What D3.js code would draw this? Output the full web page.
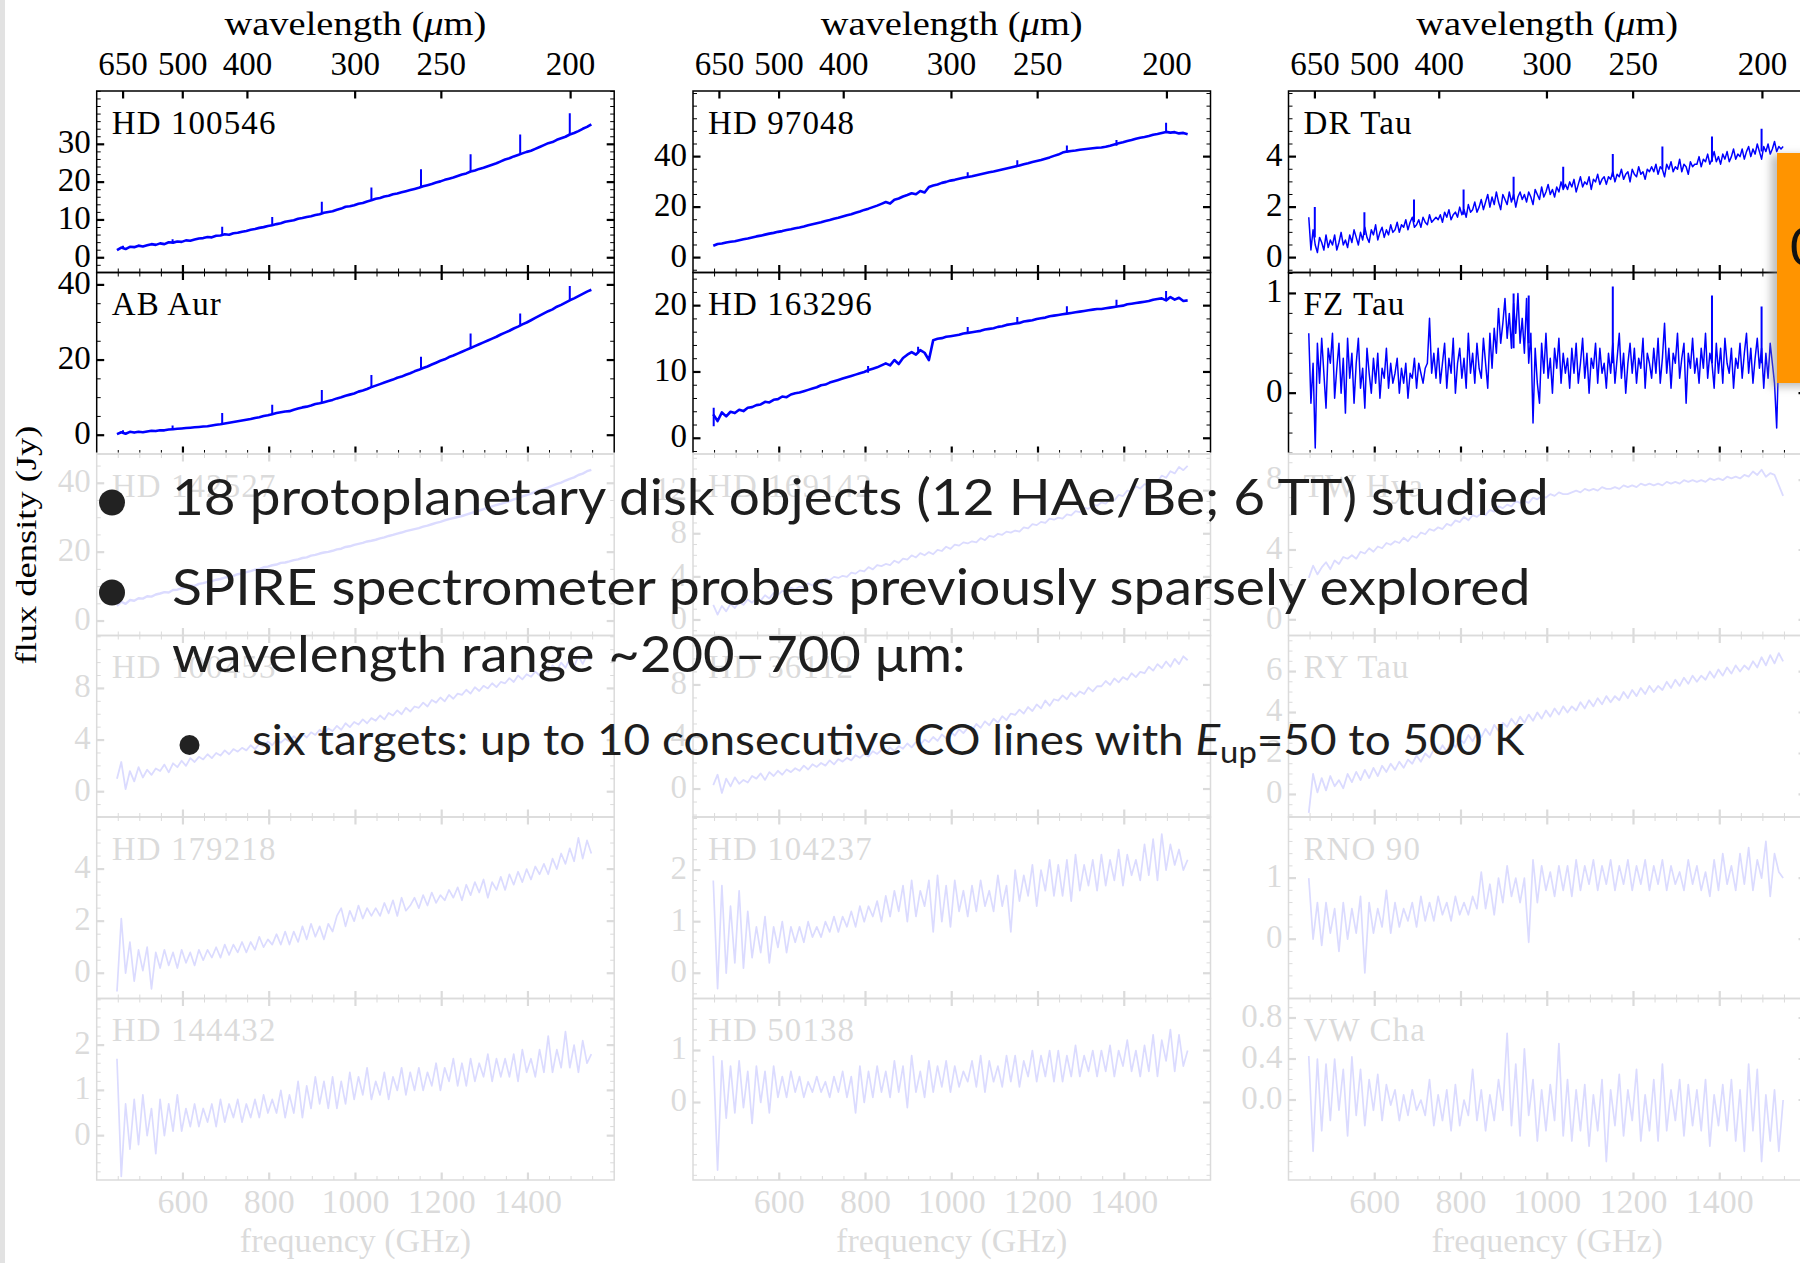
<!DOCTYPE html>
<html><head><meta charset="utf-8">
<script src="https://cdn.jsdelivr.net/npm/d3@7"></script>
<style>body{margin:0;background:#fff}svg{display:block}</style>
</head><body>
<svg id="chart" width="1800" height="1263"></svg>
<script>
// ---------- data ----------
const FREQ_DOMAIN = [400, 1600];
const FREQ = [447,457,467,477,487,497,507,517,527,537,
547,557,567,577,587,597,607,617,627,637,
647,657,667,677,687,697,707,717,727,737,
747,757,767,777,787,797,807,817,827,837,
847,857,867,877,887,897,907,917,927,937,
947,957,967,977,987,997,1007,1017,1027,1037,
1047,1057,1067,1077,1087,1097,1107,1117,1127,1137,
1147,1157,1167,1177,1187,1197,1207,1217,1227,1237,
1247,1257,1267,1277,1287,1297,1307,1317,1327,1337,
1347,1357,1367,1377,1387,1397,1407,1417,1427,1437,
1447,1457,1467,1477,1487,1497,1507,1517,1527,1537,
1547];
const FREQ5 = [447,452,457,462,467,472,477,482,487,492,497,502,507,512,517,522,527,532,537,542,
547,552,557,562,567,572,577,582,587,592,597,602,607,612,617,622,627,632,637,642,
647,652,657,662,667,672,677,682,687,692,697,702,707,712,717,722,727,732,737,742,
747,752,757,762,767,772,777,782,787,792,797,802,807,812,817,822,827,832,837,842,
847,852,857,862,867,872,877,882,887,892,897,902,907,912,917,922,927,932,937,942,
947,952,957,962,967,972,977,982,987,992,997,1002,1007,1012,1017,1022,1027,1032,1037,1042,
1047,1052,1057,1062,1067,1072,1077,1082,1087,1092,1097,1102,1107,1112,1117,1122,1127,1132,1137,1142,
1147,1152,1157,1162,1167,1172,1177,1182,1187,1192,1197,1202,1207,1212,1217,1222,1227,1232,1237,1242,
1247,1252,1257,1262,1267,1272,1277,1282,1287,1292,1297,1302,1307,1312,1317,1322,1327,1332,1337,1342,
1347,1352,1357,1362,1367,1372,1377,1382,1387,1392,1397,1402,1407,1412,1417,1422,1427,1432,1437,1442,
1447,1452,1457,1462,1467,1472,1477,1482,1487,1492,1497,1502,1507,1512,1517,1522,1527,1532,1537,1542,
1547];
const FREQ_TICKS = [600, 800, 1000, 1200, 1400];
const WAVE_TICKS = [650, 500, 400, 300, 250, 200];

const HD100546 = [2.0,2.7,2.3,2.9,2.8,3.2,3.0,3.3,3.6,3.4,
3.8,3.6,4.1,4.0,4.3,4.2,4.6,4.5,4.8,5.1,
5.2,5.5,5.4,5.8,5.9,6.2,6.1,6.5,6.6,6.9,
7.1,7.4,7.6,7.9,8.1,8.4,8.6,8.9,9.1,9.5,
9.7,9.9,10.3,10.5,10.8,11.0,11.3,11.5,11.9,12.1,
12.3,12.7,13.0,13.5,13.6,13.9,14.3,14.5,14.9,15.2,
15.6,15.8,16.2,16.4,16.8,17.0,17.3,17.6,17.9,18.2,
18.5,18.9,19.2,19.5,19.9,20.2,20.6,20.9,21.2,21.6,
22.0,22.3,22.8,23.1,23.5,23.8,24.2,24.6,25.0,25.5,
26.0,26.3,26.8,27.2,27.6,28.0,28.3,28.8,29.3,29.8,
30.3,30.6,31.2,31.6,32.0,32.6,33.0,33.5,34.1,34.6,
35.3];
const HD100546_LINES = [[461,2.5,3.2],[576,4.0,4.9],[691,6.1,8.2],[807,8.6,10.8],[922,11.8,14.8],[1037,15.2,18.6],[1152,18.6,23.4],[1267,22.8,27.4],[1382,27.4,32.6],[1497,32.5,38.2]];

const HD97048 = [4.7,5.4,5.6,6.0,6.3,6.5,6.9,7.3,7.6,8.0,
8.4,8.7,9.1,9.5,9.8,10.2,10.5,10.9,11.2,11.6,
11.9,12.3,12.8,13.2,13.6,14.0,14.5,14.9,15.4,15.8,
16.3,16.8,17.2,17.8,18.3,18.9,19.4,20.0,20.6,21.3,
22.0,21.4,22.9,23.4,24.2,24.8,25.5,25.1,26.4,25.8,
28.0,28.6,29.0,29.6,30.0,30.5,30.8,31.2,31.6,31.9,
32.2,32.6,33.0,33.4,33.8,34.1,34.5,34.9,35.3,35.7,
36.1,36.5,37.0,37.4,37.9,38.3,38.7,39.2,39.7,40.3,
40.8,41.6,42.0,42.2,42.4,42.7,42.9,43.1,43.3,43.5,
43.6,43.9,44.3,44.8,45.3,45.7,46.2,46.6,47.1,47.5,
47.8,48.2,48.7,49.0,49.4,49.8,49.5,49.7,49.2,49.4,
48.9];
const HD97048_LINES = [[1037,31.8,33.8],[1152,36.3,38.6],[1267,41.9,44.4],[1382,44.3,46.6],[1497,49.7,53.4]];

const DRTAU = [1.6,0.3,1.1,0.5,0.2,0.8,0.6,0.3,0.9,0.4,0.7,0.5,0.9,0.3,0.6,1.0,0.5,0.7,0.4,0.9,
0.6,1.1,0.8,0.5,1.0,0.7,1.2,0.8,0.6,1.1,0.9,1.3,0.7,1.0,1.2,0.8,1.1,0.9,1.3,1.0,
1.1,1.4,1.0,1.3,1.2,1.5,1.1,1.4,1.6,1.2,1.3,1.5,1.2,1.6,1.4,1.3,1.7,1.4,1.5,1.6,
1.5,1.7,1.4,1.8,1.6,1.9,1.5,1.7,1.8,1.6,2.0,1.7,1.9,1.6,2.1,1.8,1.9,2.2,1.8,2.0,
2.3,1.9,2.2,2.5,2.0,2.4,2.1,2.6,2.2,1.9,2.5,2.3,2.1,2.6,2.2,2.5,2.0,2.4,2.6,2.3,
2.5,2.2,2.6,2.4,2.1,2.7,2.5,2.3,2.8,2.4,2.6,2.9,2.5,2.7,2.4,2.8,2.6,3.0,2.7,2.9,
2.7,3.0,2.8,3.1,2.6,2.9,3.2,2.8,3.0,2.9,3.2,2.7,3.1,3.0,3.3,2.9,3.1,3.2,2.9,3.2,
3.1,3.4,3.0,3.3,3.2,3.5,3.1,3.3,3.4,3.0,3.5,3.3,3.2,3.6,3.3,3.4,3.1,3.5,3.4,3.6,
3.4,3.7,3.3,3.6,3.5,3.2,3.7,3.5,3.8,3.4,3.6,3.5,3.9,3.4,3.7,3.6,3.3,3.8,3.6,3.7,
3.7,4.0,3.6,3.9,3.8,4.1,3.7,3.9,4.2,3.8,4.0,3.7,4.1,3.9,4.2,3.8,4.0,4.3,3.9,4.1,
4.0,4.3,3.9,4.2,4.4,4.0,4.3,4.1,4.5,4.2,3.9,4.4,4.2,4.5,4.1,4.3,4.6,4.2,4.4,4.3,
4.4];
const DRTAU_LINES = [[461,0.8,2.0],[576,0.9,1.8],[691,1.4,2.3],[806,1.7,2.7],[922,2.3,3.2],[1037,2.8,3.6],[1152,3.2,4.1],[1267,3.5,4.4],[1382,3.8,4.8],[1497,4.2,5.1]];

const ABAUR = [0.3,0.8,0.4,0.9,0.7,0.9,0.8,1.0,1.2,1.1,
1.3,1.3,1.5,1.6,1.7,1.8,1.9,2.0,2.1,2.2,
2.3,2.4,2.6,2.8,2.9,3.1,3.3,3.5,3.7,3.9,
4.1,4.3,4.6,4.8,5.1,5.3,5.6,5.9,6.1,6.3,
6.4,6.8,7.1,7.4,7.6,7.9,8.3,8.5,8.8,9.1,
9.4,9.8,10.1,10.5,10.8,11.1,11.6,11.9,12.3,12.8,
13.2,13.6,14.0,14.4,14.8,15.3,15.6,16.1,16.5,17.0,
17.4,17.9,18.3,18.8,19.3,19.8,20.2,20.8,21.2,21.7,
22.2,22.7,23.2,23.7,24.2,24.7,25.2,25.7,26.2,26.8,
27.3,27.8,28.4,28.9,29.5,30.0,30.6,31.2,31.8,32.4,
33.0,33.5,34.2,34.7,35.3,35.9,36.4,37.0,37.6,38.2,
38.7];
const ABAUR_LINES = [[461,0.8,1.3],[576,1.6,2.6],[691,3.0,5.9],[807,5.6,8.1],[922,8.6,12.0],[1037,12.8,16.0],[1152,17.5,20.9],[1267,23.2,27.1],[1382,29.2,32.4],[1497,36.0,39.7]];

const HD163296 = [3.6,2.6,3.9,3.3,4.0,3.8,4.3,4.1,4.6,4.7,
5.0,5.1,5.5,5.4,5.8,5.9,6.3,6.2,6.6,6.8,
6.9,7.1,7.3,7.5,7.7,8.0,8.1,8.4,8.6,8.8,
9.0,9.2,9.4,9.6,9.8,10.0,10.3,10.5,10.7,11.0,
11.3,11.0,11.8,11.2,12.1,12.6,13.0,12.6,13.3,12.9,
11.8,14.8,15.0,15.1,15.3,15.4,15.5,15.6,15.8,15.9,
16.0,16.1,16.2,16.4,16.5,16.6,16.8,16.9,17.1,17.2,
17.3,17.4,17.6,17.7,17.8,18.0,18.1,18.2,18.4,18.5,
18.6,18.7,18.8,18.9,19.0,19.1,19.2,19.3,19.4,19.5,
19.5,19.6,19.7,19.8,19.9,20.0,20.2,20.3,20.4,20.5,
20.6,20.7,20.9,21.0,21.1,20.8,21.3,20.9,21.2,20.7,
20.8];
const HD163296_LINES = [[448,1.8,4.6],[806,9.9,10.9],[922,12.8,13.8],[1037,15.9,16.8],[1152,17.3,18.3],[1267,18.8,19.9],[1382,19.8,20.9],[1497,21.0,22.2]];

const FZTAU = [0.6,-0.1,0.3,-0.55,0.5,0.1,0.55,0.2,-0.15,0.45,0.3,0.6,-0.05,0.25,0.5,0.0,0.35,-0.2,0.55,0.15,
0.4,-0.1,0.3,0.55,0.05,0.25,-0.15,0.45,0.2,0.0,0.35,0.1,0.4,-0.05,0.25,0.15,0.45,0.05,0.3,0.1,
0.2,0.35,0.0,0.25,0.1,0.3,-0.05,0.2,0.15,0.35,0.05,0.3,0.2,0.1,0.25,0.3,0.75,0.2,0.4,0.15,
0.45,0.1,0.3,0.5,0.05,0.35,0.2,0.55,0.0,0.3,0.45,0.15,0.35,0.05,0.6,0.2,0.4,0.1,0.5,0.25,
0.15,0.55,0.3,0.05,0.6,0.25,0.65,0.4,0.85,0.5,0.7,0.95,0.55,0.8,0.45,0.9,0.6,1.0,0.5,0.75,
0.4,0.95,0.3,0.6,-0.3,0.45,0.1,-0.1,0.5,0.2,0.6,0.15,0.35,0.0,0.45,0.25,0.55,0.1,0.4,0.2,
0.35,0.05,0.45,0.2,0.5,0.1,0.3,0.55,0.15,0.4,0.0,0.35,0.25,0.5,0.1,0.45,0.2,0.3,0.05,0.4,
0.2,0.5,0.1,0.35,0.6,0.15,0.4,0.0,0.3,0.5,0.2,0.45,0.1,0.35,0.25,0.55,0.05,0.4,0.3,0.15,
0.45,0.2,0.55,0.1,0.35,0.7,0.2,0.45,0.05,0.4,0.3,0.6,0.15,0.35,0.5,-0.1,0.4,0.25,0.55,0.2,
0.35,0.1,0.45,0.25,0.6,0.15,0.4,0.3,0.05,0.5,0.2,0.45,0.1,0.55,0.3,0.2,0.45,0.05,0.35,0.25,
0.5,0.15,0.4,0.6,0.2,0.45,0.1,0.35,0.55,0.25,0.45,0.05,0.4,0.15,0.5,0.3,0.1,-0.35,0.45,0.2,
0.3];
const FZTAU_LINES = [[922,0.45,1.0],[957,0.5,0.98],[1152,0.3,1.07],[1382,0.3,0.98],[1497,0.3,0.87]];

const HD142527 = [4.4,5.6,5.0,6.1,5.9,6.6,6.5,7.2,7.1,7.7,
8.0,8.4,8.3,9.0,9.1,9.5,9.8,10.3,10.2,10.8,
11.0,11.4,11.6,12.0,12.2,12.6,12.9,13.1,13.6,13.8,
14.2,14.5,14.9,15.1,15.6,15.8,16.2,16.4,16.9,17.0,
17.3,17.7,17.9,18.3,18.5,19.0,19.2,19.6,19.9,20.1,
20.4,20.8,21.0,21.5,21.7,22.1,22.4,22.7,23.1,23.3,
23.6,24.0,24.3,24.7,25.0,25.4,25.7,26.1,26.4,26.7,
27.0,27.4,27.7,28.1,28.5,28.8,29.2,29.6,29.9,30.2,
30.5,30.9,31.3,31.7,32.1,32.5,32.9,33.3,33.7,34.0,
34.4,34.8,35.3,35.7,36.2,36.6,37.0,37.5,37.9,38.4,
38.8,39.3,39.8,40.2,40.8,41.3,41.7,42.4,42.8,43.5,
43.9];

const HD169142 = [1.4,0.5,1.3,0.8,1.5,1.1,1.7,1.4,1.9,1.6,
2.0,1.8,2.3,2.0,2.5,2.3,2.7,2.6,3.0,2.8,
3.1,3.0,3.4,3.2,3.6,3.4,3.8,3.7,4.0,3.9,
4.1,4.0,4.4,4.3,4.6,4.5,4.9,4.7,5.1,5.0,
5.2,5.1,5.5,5.3,5.7,5.6,6.0,5.8,6.2,6.0,
6.3,6.1,6.5,6.4,6.8,6.6,7.0,6.9,7.2,7.1,
7.3,7.2,7.6,7.4,7.8,7.7,8.0,7.9,8.2,8.1,
8.3,8.2,8.6,8.5,8.9,8.8,9.1,9.0,9.4,9.3,
9.5,9.4,9.8,9.7,10.1,10.0,10.4,10.3,10.7,10.6,
10.9,10.8,11.2,11.1,11.6,11.5,12.0,11.9,12.4,12.2,
12.6,12.5,13.0,12.8,13.4,13.2,13.8,13.6,14.2,13.9,
14.3];

const TWHYA = [2.4,3.1,2.6,3.0,3.3,2.9,3.4,3.2,3.6,3.5,
3.7,3.5,3.9,3.8,4.1,3.9,4.2,4.1,4.4,4.3,
4.5,4.4,4.7,4.5,4.8,4.7,5.0,4.9,5.2,5.1,
5.3,5.2,5.5,5.4,5.7,5.6,5.9,5.7,6.0,5.9,
6.1,6.0,6.3,6.2,6.5,6.4,6.6,6.5,6.8,6.7,
6.8,6.7,7.0,6.9,7.1,7.0,7.2,7.1,7.3,7.2,
7.2,7.3,7.4,7.3,7.5,7.4,7.5,7.4,7.6,7.5,
7.5,7.6,7.5,7.7,7.6,7.7,7.6,7.8,7.7,7.8,
7.7,7.8,7.7,7.9,7.8,7.9,7.8,8.0,7.9,8.0,
7.9,8.0,7.9,8.1,8.0,8.1,8.0,8.2,8.1,8.2,
8.1,8.3,8.2,8.5,8.3,8.6,8.2,8.4,8.3,7.7,
7.1];

const HD100453 = [1.0,2.3,0.2,1.6,0.8,1.9,1.1,1.7,1.3,1.8,
1.6,2.1,1.5,2.2,1.9,2.4,2.0,2.6,2.3,2.7,
2.5,2.9,2.6,3.0,2.8,3.2,2.9,3.3,3.1,3.4,
3.2,3.6,3.3,3.7,3.5,3.9,3.6,4.0,3.8,4.1,
3.9,4.3,4.0,4.5,4.2,4.6,4.4,4.8,4.5,4.9,
4.7,5.1,4.8,5.3,5.0,5.4,5.2,5.6,5.3,5.7,
5.5,5.9,5.6,6.1,5.9,6.3,6.0,6.5,6.2,6.6,
6.5,6.9,6.6,7.1,6.9,7.3,7.0,7.5,7.2,7.6,
7.5,7.9,7.6,8.1,7.8,8.2,8.0,8.4,8.1,8.5,
8.4,8.8,8.5,9.0,8.7,9.1,8.9,9.3,9.0,9.4,
9.3,9.8,9.4,10.0,9.6,10.3,9.7,10.5,9.9,10.6,
10.2];

const HD36112 = [0.3,1.1,-0.3,0.8,0.2,0.9,0.4,0.7,0.5,1.0,
0.8,1.2,0.7,1.3,1.0,1.4,1.1,1.5,1.3,1.6,
1.4,1.8,1.5,1.9,1.7,2.0,1.8,2.2,1.9,2.3,
2.1,2.4,2.2,2.6,2.4,2.7,2.5,2.9,2.7,3.0,
2.8,3.2,2.9,3.3,3.1,3.5,3.2,3.6,3.4,3.8,
3.6,4.0,3.7,4.2,3.9,4.4,4.1,4.6,4.3,4.7,
4.5,5.0,4.7,5.2,4.9,5.4,5.1,5.6,5.3,5.8,
5.7,6.1,5.8,6.3,6.0,6.5,6.2,6.8,6.4,6.9,
6.8,7.2,6.9,7.4,7.1,7.5,7.3,7.8,7.5,7.9,
7.9,8.3,8.0,8.5,8.2,8.6,8.4,8.9,8.6,9.0,
8.9,9.4,9.1,9.6,9.3,9.8,9.4,10.0,9.6,10.2,
9.9];

const RYTAU = [-0.9,1.0,0.1,0.8,0.2,0.9,0.4,0.7,0.3,1.0,
0.6,1.1,0.7,1.2,0.8,1.3,0.9,1.4,1.1,1.5,
1.2,1.6,1.3,1.7,1.5,1.9,1.6,2.0,1.8,2.2,
2.0,2.4,2.1,2.6,2.3,2.7,2.5,2.9,2.6,3.0,
2.8,3.2,2.9,3.4,3.1,3.5,3.3,3.7,3.4,3.8,
3.5,3.9,3.6,4.0,3.7,4.1,3.8,4.2,3.9,4.3,
4.0,4.3,4.1,4.5,4.2,4.6,4.3,4.7,4.4,4.8,
4.5,4.8,4.6,5.0,4.7,5.1,4.8,5.2,4.9,5.3,
5.0,5.3,5.1,5.5,5.2,5.6,5.3,5.7,5.4,5.8,
5.5,5.8,5.6,6.0,5.7,6.1,5.8,6.2,5.9,6.3,
6.0,6.3,6.1,6.5,6.2,6.7,6.3,6.8,6.4,6.9,
6.5];

const HD179218 = [-0.7,2.1,0.0,1.2,-0.3,0.9,0.1,1.0,-0.6,0.8,
0.2,0.9,0.3,0.8,0.2,0.9,0.4,0.8,0.3,0.9,
0.5,0.9,0.6,1.0,0.6,1.1,0.7,1.1,0.8,1.2,
0.8,1.2,0.9,1.4,1.0,1.3,1.1,1.5,1.1,1.6,
1.1,1.6,1.2,1.8,1.3,1.9,1.4,1.8,1.3,1.9,
1.6,2.2,2.5,1.8,2.4,2.0,2.6,2.1,2.5,2.2,
2.5,2.2,2.7,2.3,2.8,2.2,2.9,2.4,2.6,2.9,
2.5,3.0,2.6,3.1,2.7,3.0,2.8,3.2,2.9,3.3,
2.8,3.4,3.0,3.5,3.1,3.6,2.9,3.5,3.2,3.7,
3.2,3.8,3.4,3.9,3.5,4.0,3.6,4.1,3.8,4.2,
3.8,4.4,4.0,4.6,4.2,4.8,4.3,5.2,4.4,5.1,
4.6];

const HD144432 = [1.7,-0.9,0.7,-0.3,0.8,-0.2,0.9,0.0,0.6,-0.4,
0.8,0.0,0.7,0.1,0.9,0.1,0.6,0.2,0.7,0.2,
0.6,0.3,0.7,0.2,0.8,0.3,0.7,0.4,0.8,0.3,
0.7,0.4,0.8,0.4,0.9,0.5,0.8,0.5,1.0,0.4,
0.9,0.5,1.2,0.4,1.1,0.6,1.3,0.7,1.2,0.6,
1.3,0.6,1.2,0.7,1.4,0.8,1.3,0.9,1.5,0.8,
1.2,0.9,1.4,0.8,1.3,1.0,1.5,0.9,1.4,1.0,
1.5,1.0,1.4,1.1,1.6,1.0,1.5,1.2,1.7,1.1,
1.6,1.1,1.7,1.2,1.6,1.3,1.8,1.2,1.7,1.3,
1.7,1.3,1.8,1.2,1.9,1.4,1.7,1.3,1.9,1.4,
2.2,1.4,1.9,1.5,2.3,1.5,2.0,1.4,2.1,1.6,
1.8];

const HD104237 = [1.8,-0.3,1.7,0.0,1.3,0.2,1.6,0.1,1.2,0.3,
0.9,0.4,1.1,0.2,0.9,0.5,1.0,0.4,0.9,0.6,
0.9,0.6,1.0,0.7,0.9,0.7,1.0,0.8,1.1,0.8,
1.1,0.9,1.2,0.9,1.3,1.0,1.3,1.1,1.4,1.0,
1.5,1.1,1.6,1.2,1.7,1.0,1.8,1.1,1.6,1.3,
1.8,0.8,1.9,1.0,1.7,0.9,1.8,1.2,1.6,1.1,
1.7,1.2,1.8,1.3,1.6,1.2,1.9,1.3,1.7,0.8,
2.0,1.4,1.9,1.5,2.1,1.3,2.0,1.6,2.2,1.5,
2.1,1.5,2.2,1.4,2.3,1.6,2.1,1.7,2.2,1.6,
2.3,1.7,2.2,1.8,2.4,1.7,2.3,1.9,2.2,1.8,
2.5,1.9,2.6,1.8,2.7,2.0,2.5,2.1,2.4,2.0,
2.2];

const HD50138 = [0.9,-1.3,0.8,-0.3,0.7,-0.2,0.8,-0.1,0.6,-0.4,
0.7,0.0,0.6,-0.2,0.7,0.1,0.5,0.1,0.6,0.2,
0.5,0.1,0.4,0.2,0.5,0.2,0.4,0.1,0.5,0.2,
0.6,0.1,0.5,-0.2,0.7,0.0,0.6,0.1,0.7,0.2,
0.6,0.1,0.8,0.2,0.7,-0.1,0.9,0.2,0.6,0.1,
0.8,0.2,0.7,0.3,0.8,0.2,0.7,0.3,0.6,0.4,
0.8,0.3,0.9,0.2,0.8,0.4,0.7,0.3,0.9,0.4,
0.9,0.3,0.8,0.5,1.0,0.4,0.9,0.5,1.0,0.4,
1.0,0.4,0.9,0.5,1.1,0.5,0.9,0.6,1.0,0.5,
1.0,0.6,1.1,0.5,1.0,0.7,1.2,0.6,1.0,0.5,
1.1,0.6,1.3,0.5,1.2,0.8,1.4,0.6,1.3,0.7,
1.0];

const RNO90 = [1.0,0.0,0.6,-0.1,0.6,0.1,0.5,-0.2,0.6,0.0,
0.5,0.1,0.7,-0.55,0.6,0.1,0.5,0.2,0.8,0.1,
0.6,0.2,0.5,0.3,0.6,0.2,0.7,0.3,0.6,0.3,
0.7,0.4,0.6,0.3,0.7,0.4,0.6,0.4,0.7,0.5,
1.1,0.5,0.9,0.4,1.0,0.6,1.2,0.7,1.0,0.6,
1.0,-0.05,1.3,0.6,1.2,0.8,1.1,0.7,1.2,0.8,
1.2,0.7,1.3,0.8,1.2,0.9,1.3,0.8,1.2,0.9,
1.3,0.8,1.2,0.9,1.3,0.8,1.2,0.9,1.3,0.8,
1.2,0.9,1.3,0.8,1.2,0.9,1.1,0.8,1.3,0.9,
1.2,0.8,1.1,0.7,1.3,0.8,1.4,0.9,1.2,0.8,
1.4,0.9,1.5,0.8,1.3,1.0,1.6,0.7,1.4,1.1,
1.0];

const VWCHA = [0.43,-0.5,0.4,-0.3,0.35,-0.2,0.4,-0.1,0.3,-0.35,
0.42,-0.15,0.3,-0.25,0.2,-0.1,0.25,-0.2,0.15,-0.05,
0.1,-0.2,0.05,-0.15,0.1,-0.1,0.0,-0.15,0.2,-0.25,
0.05,-0.2,0.1,-0.3,0.15,-0.25,0.0,-0.15,0.3,-0.2,
0.1,-0.3,0.05,-0.2,0.2,-0.1,0.65,-0.25,0.35,-0.35,
0.5,-0.15,0.2,-0.4,0.1,-0.3,0.15,-0.2,0.55,-0.35,
0.2,-0.4,0.1,-0.3,0.15,-0.45,0.05,-0.3,0.2,-0.6,
0.1,-0.25,0.25,-0.35,0.1,-0.2,0.3,-0.4,0.05,-0.3,
0.2,-0.4,0.35,-0.3,0.1,-0.2,0.2,-0.35,0.15,-0.25,
0.1,-0.3,0.2,-0.45,0.05,-0.25,0.15,-0.3,0.2,-0.4,
0.1,-0.5,0.35,-0.3,0.3,-0.6,0.05,-0.4,0.1,-0.5,
0.0];

// panel table: name, values, lines, y range, labelled ticks, minor step
const PANELS = [
  {name:"HD 100546", col:0,row:0, freq:FREQ,  data:HD100546, lines:HD100546_LINES, domain:[-3.9,44.1], major:[0,10,20,30], minor:2, sw:2.6},
  {name:"HD 97048",  col:1,row:0, freq:FREQ,  data:HD97048,  lines:HD97048_LINES,  domain:[-5.9,66],   major:[0,20,40], minor:5, sw:2.6},
  {name:"DR Tau",    col:2,row:0, freq:FREQ5, data:DRTAU,    lines:DRTAU_LINES,    domain:[-0.59,6.6], major:[0,2,4], minor:0.5, sw:1.5},
  {name:"AB Aur",    col:0,row:1, freq:FREQ,  data:ABAUR,    lines:ABAUR_LINES,    domain:[-5,43.3],   major:[0,20,40], minor:5, sw:2.6},
  {name:"HD 163296", col:1,row:1, freq:FREQ,  data:HD163296, lines:HD163296_LINES, domain:[-2.37,25.0], major:[0,10,20], minor:2, sw:2.6},
  {name:"FZ Tau",    col:2,row:1, freq:FREQ5, data:FZTAU,    lines:FZTAU_LINES,    domain:[-0.61,1.21], major:[0,1], minor:0.2, sw:1.5},
  {name:"HD 142527", col:0,row:2, freq:FREQ,  data:HD142527, lines:[], domain:[-4.2,48.5], major:[0,20,40], minor:5, sw:2.4},
  {name:"HD 169142", col:1,row:2, freq:FREQ,  data:HD169142, lines:[], domain:[-1.44,15.4], major:[0,4,8,12], minor:1, sw:1.8},
  {name:"TW Hya",    col:2,row:2, freq:FREQ,  data:TWHYA,    lines:[], domain:[-0.9,9.5], major:[0,4,8], minor:1, sw:1.8},
  {name:"HD 100453", col:0,row:3, freq:FREQ,  data:HD100453, lines:[], domain:[-1.96,12.1], major:[0,4,8], minor:1, sw:1.8},
  {name:"HD 36112",  col:1,row:3, freq:FREQ,  data:HD36112,  lines:[], domain:[-2.15,11.8], major:[0,4,8], minor:1, sw:1.8},
  {name:"RY Tau",    col:2,row:3, freq:FREQ,  data:RYTAU,    lines:[], domain:[-1.1,7.76], major:[0,2,4,6], minor:0.5, sw:1.8},
  {name:"HD 179218", col:0,row:4, freq:FREQ,  data:HD179218, lines:[], domain:[-0.97,6.0], major:[0,2,4], minor:0.5, sw:1.7},
  {name:"HD 104237", col:1,row:4, freq:FREQ,  data:HD104237, lines:[], domain:[-0.49,3.03], major:[0,1,2], minor:0.2, sw:1.7},
  {name:"RNO 90",    col:2,row:4, freq:FREQ,  data:RNO90,    lines:[], domain:[-0.97,2.0], major:[0,1], minor:0.2, sw:1.7},
  {name:"HD 144432", col:0,row:5, freq:FREQ,  data:HD144432, lines:[], domain:[-0.98,3.03], major:[0,1,2], minor:0.2, sw:1.7},
  {name:"HD 50138",  col:1,row:5, freq:FREQ,  data:HD50138,  lines:[], domain:[-1.49,2.0], major:[0,1], minor:0.2, sw:1.7},
  {name:"VW Cha",    col:2,row:5, freq:FREQ,  data:VWCHA,    lines:[], domain:[-0.78,0.99], major:[0.0,0.4,0.8], minor:0.1, fmt:".1f", sw:1.7}
];

const BULLETS = [
  {text:"18 protoplanetary disk objects (12 HAe/Be; 6 TT) studied", x:172, y:515, size:50, width:1377, dot:[112,502.5,13]},
  {text:"SPIRE spectrometer probes previously sparsely explored", x:172, y:605, size:50, width:1359, dot:[112,592.5,13]},
  {text:"wavelength range ~200\u2013700 \u03bcm:", x:172, y:672, size:50, width:794, dot:null},
  {text:null, x:252, y:755, size:42, width:1273, dot:[189.5,745,10]}
];

// ---------- drawing ----------
const svg = d3.select("#chart");
const defs = svg.append("defs");
const COLX = [96.7, 693, 1288.5], TOP = 91, PH = 181.5, PW = 517.5;
const SERIF = "'Liberation Serif','Times New Roman',serif";
const x = d3.scaleLinear().domain(FREQ_DOMAIN).range([0, PW]);
const C = 299792.458;
const MAJ = 7.5, MIN = 4;

svg.append("rect").attr("width",1800).attr("height",1263).attr("fill","#fff");

function hTick(g, xv, y0, len, w){ g.append("line").attr("x1",xv).attr("x2",xv).attr("y1",y0).attr("y2",y0+len).attr("stroke","#000").attr("stroke-width",w); }
function vTick(g, yv, x0, len, w){ g.append("line").attr("y1",yv).attr("y2",yv).attr("x1",x0).attr("x2",x0+len).attr("stroke","#000").attr("stroke-width",w); }

const freqMinor = d3.range(450, 1551, 50).filter(f => !FREQ_TICKS.includes(f));

PANELS.forEach((p, i) => {
  const gx = COLX[p.col], gy = TOP + p.row * PH;
  const g = svg.append("g").attr("transform", `translate(${gx},${gy})`);
  const y = d3.scaleLinear().domain(p.domain).range([PH, 0]);
  defs.append("clipPath").attr("id", "cp" + i).append("rect").attr("width", PW).attr("height", PH);
  const line = d3.line().x(d => x(d[0])).y(d => y(d[1]));
  const dg = g.append("g").attr("clip-path", `url(#cp${i})`);
  dg.append("path").attr("d", line(d3.zip(p.freq, p.data)))
    .attr("fill","none").attr("stroke","#0000ff").attr("stroke-width",p.sw).attr("stroke-linejoin","round");
  p.lines.forEach(s => {
    dg.append("path").attr("d", line([[s[0], s[1]], [s[0], s[2]]]))
      .attr("fill","none").attr("stroke","#0000ff").attr("stroke-width",2);
  });
  // frame
  g.append("rect").attr("width",PW).attr("height",PH).attr("fill","none").attr("stroke","#000").attr("stroke-width",1.5);

  // y ticks (left + right)
  const lo = Math.ceil(p.domain[0] / p.minor - 1e-9), hi = Math.floor(p.domain[1] / p.minor + 1e-9);
  for (let k = lo; k <= hi; k++) {
    const v = k * p.minor;
    if (p.major.some(m => Math.abs(m - v) < 1e-6)) continue;
    vTick(g, y(v), 0, MIN, 1); vTick(g, y(v), PW, -MIN, 1);
  }
  const fmt = d3.format(p.fmt || "d");
  p.major.forEach(v => {
    vTick(g, y(v), 0, MAJ, 2.2); vTick(g, y(v), PW, -MAJ, 2.2);
    g.append("text").attr("x", -6).attr("y", y(v)).attr("dy","0.27em").attr("text-anchor","end")
      .attr("font-family", SERIF).attr("font-size", 33).attr("fill","#000").text(fmt(v));
  });

  // bottom frequency ticks
  FREQ_TICKS.forEach(f => hTick(g, x(f), PH, -MAJ, 2.2));
  freqMinor.forEach(f => hTick(g, x(f), PH, -MIN, 1));
  if (p.row === 0) {
    WAVE_TICKS.forEach(w => hTick(g, x(C / w), 0, MAJ, 2.2));
    WAVE_TICKS.forEach(w => g.append("text").attr("x", x(C / w)).attr("y", -16).attr("text-anchor","middle")
      .attr("font-family", SERIF).attr("font-size", 33).attr("fill","#000").text(w));
    const t = g.append("text").attr("font-family", SERIF).attr("font-size", 33).attr("fill","#000");
    t.append("tspan").text("wavelength (");
    t.append("tspan").attr("font-style","italic").text("\u03bc");
    t.append("tspan").text("m)");
    const w0 = t.node().getComputedTextLength();
    t.attr("transform", `translate(${PW/2 - 131},${-56}) scale(${262 / w0},1)`);
  } else {
    FREQ_TICKS.forEach(f => hTick(g, x(f), 0, MAJ, 2.2));
    freqMinor.forEach(f => hTick(g, x(f), 0, MIN, 1));
  }
  if (p.row === 5) {
    FREQ_TICKS.forEach(f => g.append("text").attr("x", x(f)).attr("y", PH + 33).attr("text-anchor","middle")
      .attr("font-family", SERIF).attr("font-size", 34).attr("fill","#000").text(f));
    g.append("text").attr("x", PW/2).attr("y", PH + 72).attr("text-anchor","middle")
      .attr("font-family", SERIF).attr("font-size", 34).attr("fill","#000").text("frequency (GHz)");
  }
  // panel name
  g.append("text").attr("x", 15).attr("y", 42.5).attr("font-family", SERIF).attr("font-size", 33)
    .attr("letter-spacing", 1.1).attr("fill","#000").text(p.name);
});

// y axis title
{
  const t = svg.append("text").attr("font-family", SERIF).attr("font-size", 30).attr("fill","#000").text("flux density (Jy)");
  const w0 = t.node().getComputedTextLength();
  t.attr("transform", `translate(36,${545 + 119.5}) rotate(-90) scale(${239 / w0},1)`);
}

// fade overlay over rows 3-6
svg.append("rect").attr("x", 46).attr("y", 452.5).attr("width", 1760).attr("height", 820)
  .attr("fill", "#fff").attr("opacity", 0.86);

// bullet text
const SANS = "Lato,'Open Sans',sans-serif";
BULLETS.forEach(b => {
  if (b.dot) svg.append("circle").attr("cx", b.dot[0]).attr("cy", b.dot[1]).attr("r", b.dot[2]).attr("fill", "#222");
  const t = svg.append("text").attr("font-family", SANS).attr("font-size", b.size).attr("fill", "#1e1e1e");
  if (b.text) t.text(b.text);
  else {
    t.append("tspan").text("six targets: up to 10 consecutive CO lines with ");
    t.append("tspan").attr("font-style","italic").text("E");
    t.append("tspan").attr("font-size", 30).attr("dy", 8).text("up");
    t.append("tspan").attr("dy", -8).text("=50 to 500 K");
  }
  const w0 = t.node().getBBox().width;
  t.attr("transform", `translate(${b.x},${b.y}) scale(${b.width / w0},1)`);
});

// orange box at right edge with shadow
defs.append("filter").attr("id","blur").attr("x","-50%").attr("y","-20%").attr("width","200%").attr("height","140%")
  .append("feGaussianBlur").attr("stdDeviation", 4);
svg.append("rect").attr("x", 1771).attr("y", 155).attr("width", 40).attr("height", 232).attr("fill", "#888")
  .attr("opacity", 0.55).attr("filter", "url(#blur)");
svg.append("rect").attr("x", 1777).attr("y", 153).attr("width", 30).attr("height", 230).attr("fill", "#ff9400");
svg.append("text").attr("x", 1790).attr("y", 266).attr("font-family", SANS).attr("font-size", 54).attr("fill", "#111").text("0");

// left edge strip
svg.append("rect").attr("x", 0).attr("y", 0).attr("width", 5).attr("height", 1263).attr("fill", "#e2e2e2");
</script>
</body></html>
